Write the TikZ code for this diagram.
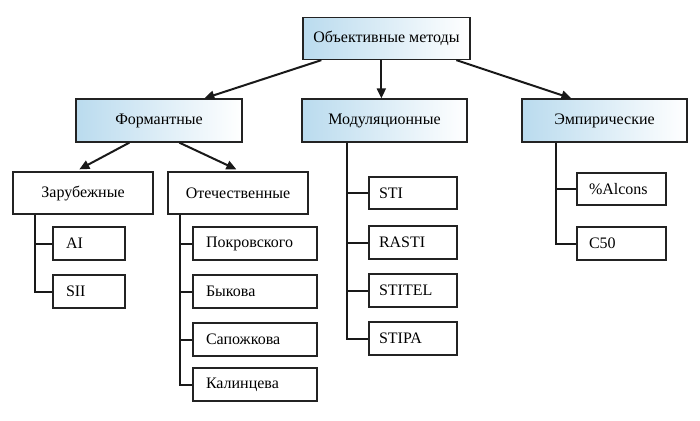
\documentclass[tikz,border=0pt]{standalone}
\usepackage{fontspec}
\setmainfont{Liberation Serif}
\usetikzlibrary{arrows.meta,calc}
\definecolor{hblue}{RGB}{186,219,238}
\definecolor{edge}{RGB}{35,35,35}
\tikzset{
  px/.style={x=1pt,y=-1pt},
  head/.style={draw=edge,line width=1.3pt,left color=hblue,right color=white,
    minimum height=42pt,inner sep=0pt,font=\fontsize{16}{19}\selectfont,text=black},
  sub/.style={draw=edge,line width=1.3pt,fill=white,minimum height=42pt,inner sep=0pt,
    font=\fontsize{16}{19}\selectfont,text=black},
  leaf/.style={draw=edge,line width=1.3pt,fill=white,minimum height=33pt,inner xsep=13pt,inner ysep=0pt,
    align=left,font=\fontsize{16}{19}\selectfont,text=black},
  arr/.style={line width=2pt,draw=black!90,-{Triangle[length=10pt,width=9pt]}},
  tree/.style={line width=2pt,draw=black!90}
}
\begin{document}
\begin{tikzpicture}[px]
\useasboundingbox (0,0) rectangle (700,420);
% headers
\node[head,minimum width=167pt] (top) at (386.5,38.5) {Объективные методы};
\node[head,minimum width=166pt,minimum height=43pt] (form) at (159,120.5) {Формантные};
\node[head,minimum width=165pt,minimum height=43pt] (mod) at (384.5,120.5) {Модуляционные};
\node[head,minimum width=165pt,minimum height=43pt] (emp) at (604.5,120.5) {Эмпирические};
% second level
\node[sub,minimum width=140pt] (zar) at (83,193) {Зарубежные};
\node[sub,minimum width=140pt] (ote) at (238,193) {Отечественные};
% leaves
\node[leaf,text width=46pt] (ai) at (89,243.5) {AI};
\node[leaf,text width=46pt] (sii) at (89,291.5) {SII};
\node[leaf,text width=98pt] (pok) at (255,243.5) {Покровского};
\node[leaf,text width=98pt] (byk) at (255,291.5) {Быкова};
\node[leaf,text width=98pt] (sap) at (255,339.5) {Сапожкова};
\node[leaf,text width=98pt] (kal) at (255,384.5) {Калинцева};
\node[leaf,minimum height=32pt,inner xsep=10pt,text width=68pt] (sti) at (413,193) {STI};
\node[leaf,text width=68pt,inner xsep=10pt] (rasti) at (413,242.5) {RASTI};
\node[leaf,text width=68pt,inner xsep=10pt] (stitel) at (413,290.5) {STITEL};
\node[leaf,text width=68pt,inner xsep=10pt] (stipa) at (413,338.5) {STIPA};
\node[leaf,text width=65pt,minimum height=32pt,inner xsep=12pt] (alc) at (621.5,189) {\%Alcons};
\node[leaf,text width=65pt,inner xsep=12pt] (c50) at (621.5,243.5) {C50};
% arrows
\draw[arr] ([xshift=19pt]top.south west) -- ([xshift=129pt]form.north west);
\draw[arr] ([xshift=79pt]top.south west) -- ([xshift=80pt]mod.north west);
\draw[arr] ([xshift=154pt]top.south west) -- ([xshift=50pt]emp.north west);
\draw[arr] ([xshift=54pt]form.south west) -- ([xshift=67pt,yshift=2pt]zar.north west);
\draw[arr] ([xshift=104pt]form.south west) -- ([xshift=69pt,yshift=2pt]ote.north west);
% trees
\coordinate (zt) at ([xshift=23pt]zar.south west);
\draw[tree] (zt) |- (ai.west);
\draw[tree] (zt) |- (sii.west);
\coordinate (ot) at ([xshift=13pt]ote.south west);
\draw[tree] (ot) |- (pok.west);
\draw[tree] (ot) |- (byk.west);
\draw[tree] (ot) |- (sap.west);
\draw[tree] (ot) |- (kal.west);
\coordinate (mt) at ([xshift=46pt]mod.south west);
\draw[tree] (mt) |- (sti.west);
\draw[tree] (mt) |- (rasti.west);
\draw[tree] (mt) |- (stitel.west);
\draw[tree] (mt) |- (stipa.west);
\coordinate (et) at ([xshift=35pt]emp.south west);
\draw[tree] (et) |- (alc.west);
\draw[tree] (et) |- (c50.west);
\end{tikzpicture}
\end{document}
